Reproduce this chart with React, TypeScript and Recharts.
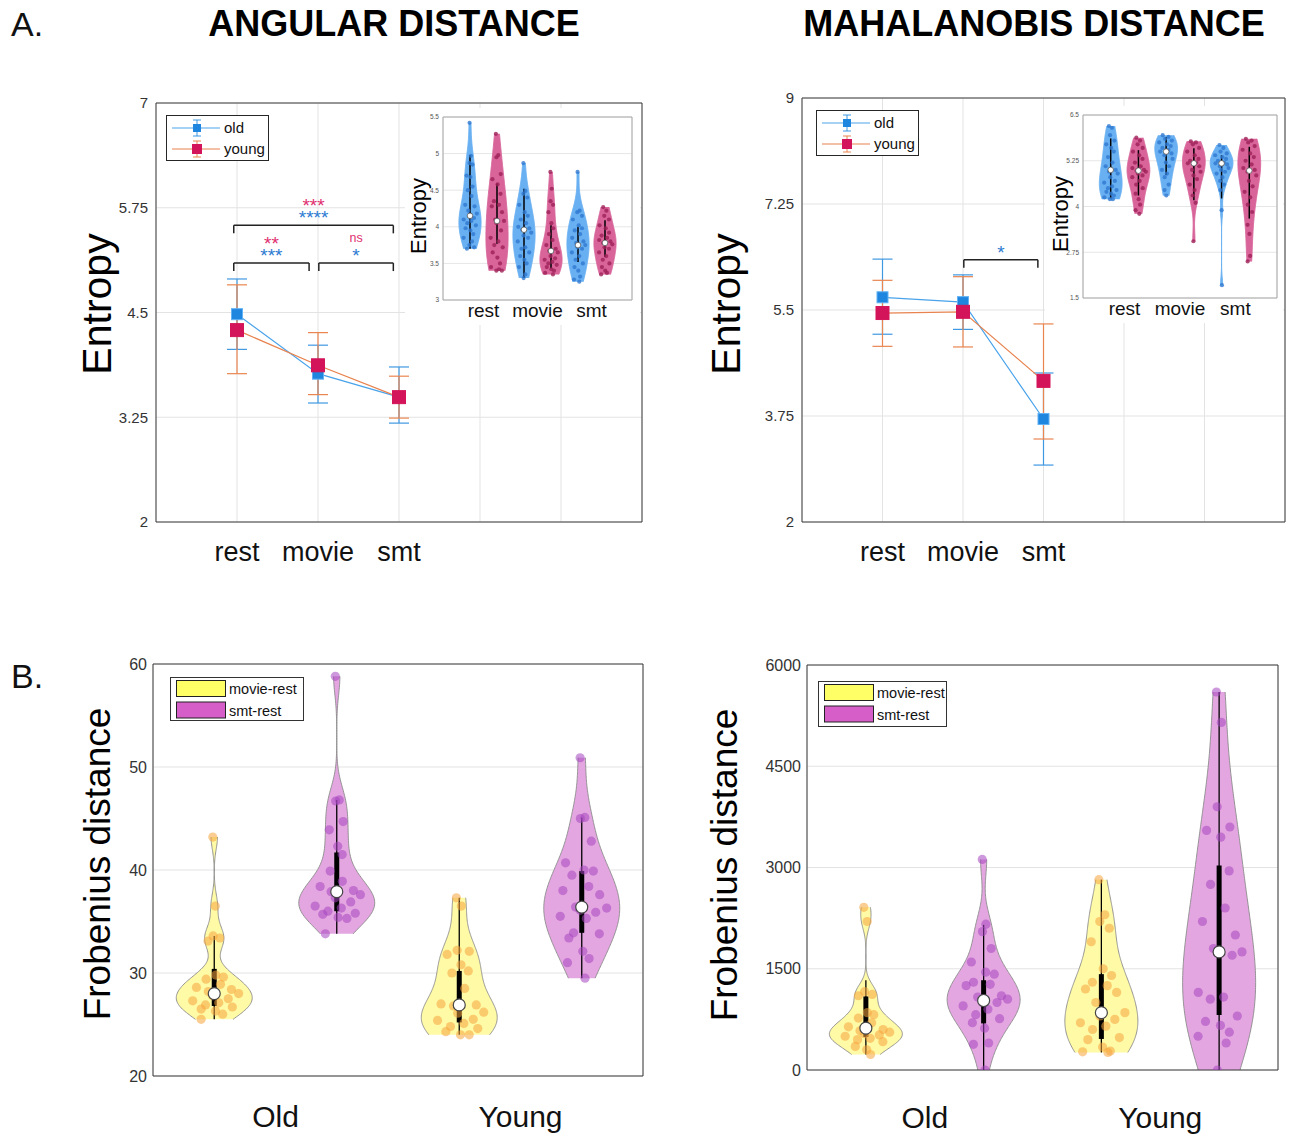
import React from 'react';
import {
  ComposedChart, Line, ErrorBar, Area, Scatter, XAxis, YAxis, CartesianGrid,
  ReferenceLine, ReferenceDot, ReferenceArea, Legend,
} from 'recharts';

const FONT = '"Liberation Sans", Arial, Helvetica, sans-serif';

// ================= DATA =================
// ---- A. condition means with error bars ----
const conditions = ['rest', 'movie', 'smt'];
const conditionX = [1, 2, 3];

const angularOldMean = [4.48, 3.77, 3.49];
const angularOldLow = [4.06, 3.42, 3.18];
const angularOldHigh = [4.9, 4.11, 3.85];
const angularYoungMean = [4.29, 3.87, 3.49];
const angularYoungLow = [3.77, 3.52, 3.24];
const angularYoungHigh = [4.83, 4.26, 3.74];
const angularTicks = [2, 3.25, 4.5, 5.75, 7];

const mahalOldMean = [5.71, 5.63, 3.7];
const mahalOldLow = [5.1, 5.18, 2.94];
const mahalOldHigh = [6.34, 6.08, 4.46];
const mahalYoungMean = [5.45, 5.47, 4.33];
const mahalYoungLow = [4.9, 4.89, 3.37];
const mahalYoungHigh = [5.99, 6.05, 5.27];
const mahalTicks = [2, 3.75, 5.5, 7.25, 9];

// significance brackets
const angularBracketFrom = [0.96, 0.96, 2.01];
const angularBracketTo = [2.93, 1.89, 2.93];
const angularBracketLevel = [5.54, 5.09, 5.09];
const angularSigYoung = ['***', '**', 'ns'];
const angularSigOld = ['****', '***', '*'];

const mahalBracketFrom = [2.01];
const mahalBracketTo = [2.93];
const mahalBracketLevel = [6.33];
const mahalSigYoung = [''];
const mahalSigOld = ['*'];

// ---- A. insets: per-subject entropy (old/young x rest/movie/smt) ----
const insetGroups = ['old', 'young', 'old', 'young', 'old', 'young'];
const insetX = [1, 2, 3, 4, 5, 6];

const angInsetOldRest = [5.42, 4.97, 4.87, 4.85, 4.7, 4.68, 4.55, 4.5, 4.42, 4.3, 4.28, 4.22, 4.18, 4.15, 4.12, 4.1, 4.08, 4.05, 4.02, 3.98, 3.95, 3.9, 3.85, 3.8, 3.75, 3.72, 3.7];
const angInsetYoungRest = [5.27, 4.98, 4.95, 4.72, 4.65, 4.58, 4.45, 4.35, 4.3, 4.28, 4.2, 4.1, 4.08, 4.05, 3.95, 3.85, 3.8, 3.75, 3.72, 3.65, 3.58, 3.5, 3.45, 3.42, 3.4, 3.4];
const angInsetOldMovie = [4.87, 4.49, 4.45, 4.4, 4.3, 4.2, 4.15, 4.1, 4.05, 4.0, 3.98, 3.96, 3.92, 3.88, 3.85, 3.8, 3.72, 3.7, 3.65, 3.6, 3.55, 3.5, 3.45, 3.35, 3.3];
const angInsetYoungMovie = [4.75, 4.52, 4.35, 4.3, 4.2, 4.05, 3.98, 3.9, 3.82, 3.75, 3.7, 3.67, 3.65, 3.6, 3.57, 3.55, 3.52, 3.5, 3.48, 3.45, 3.42, 3.4, 3.37, 3.35];
const angInsetOldSmt = [4.75, 4.22, 4.2, 4.15, 4.1, 4.02, 3.98, 3.95, 3.9, 3.85, 3.8, 3.78, 3.75, 3.72, 3.7, 3.65, 3.6, 3.55, 3.5, 3.45, 3.4, 3.32, 3.28, 3.25];
const angInsetYoungSmt = [4.27, 4.22, 4.15, 4.1, 4.02, 3.98, 3.92, 3.88, 3.85, 3.82, 3.8, 3.78, 3.76, 3.72, 3.7, 3.65, 3.6, 3.55, 3.5, 3.45, 3.4, 3.37, 3.35];
const angInsetMedian = [4.15, 4.08, 3.96, 3.67, 3.75, 3.78];
const angInsetLo = [3.7, 3.77, 3.3, 3.43, 3.52, 3.59];
const angInsetHi = [4.98, 4.59, 4.52, 4.02, 4.0, 4.09];
const angInsetTicks = [3, 3.5, 4, 4.5, 5, 5.5];

const mahInsetOldRest = [6.2, 6.15, 5.95, 5.8, 5.7, 5.6, 5.5, 5.35, 5.2, 5.1, 5.0, 4.95, 4.9, 4.8, 4.7, 4.65, 4.55, 4.5, 4.45, 4.4, 4.35, 4.3, 4.25, 4.2, 4.2];
const mahInsetYoungRest = [5.88, 5.8, 5.7, 5.6, 5.5, 5.4, 5.3, 5.2, 5.1, 5.05, 5.0, 4.98, 4.95, 4.9, 4.85, 4.8, 4.7, 4.6, 4.5, 4.35, 4.2, 4.05, 3.9, 3.8];
const mahInsetOldMovie = [5.95, 5.9, 5.85, 5.8, 5.75, 5.7, 5.65, 5.6, 5.55, 5.5, 5.45, 5.4, 5.3, 5.2, 5.1, 5.0, 4.9, 4.8, 4.6, 4.45, 4.3];
const mahInsetYoungMovie = [5.78, 5.75, 5.7, 5.6, 5.5, 5.4, 5.3, 5.25, 5.2, 5.18, 5.1, 5.0, 4.95, 4.85, 4.75, 4.6, 4.45, 4.3, 4.1, 3.05];
const mahInsetOldSmt = [5.68, 5.6, 5.5, 5.45, 5.4, 5.35, 5.3, 5.25, 5.2, 5.18, 5.15, 5.1, 5.05, 5.0, 4.95, 4.9, 4.8, 4.7, 4.6, 4.45, 3.9, 1.85];
const mahInsetYoungSmt = [5.85, 5.8, 5.75, 5.65, 5.55, 5.45, 5.35, 5.25, 5.15, 5.05, 5.0, 4.95, 4.85, 4.7, 4.55, 4.4, 4.25, 4.05, 3.85, 3.5, 3.25, 2.65, 2.5];
const mahInsetMedian = [5.0, 4.98, 5.5, 5.18, 5.18, 4.98];
const mahInsetLo = [4.22, 4.3, 4.86, 4.17, 4.22, 3.67];
const mahInsetHi = [5.86, 5.54, 5.9, 5.59, 5.4, 5.63];
const mahInsetTicks = [1.5, 2.75, 4, 5.25, 6.5];

// ---- B. Frobenius distance between task and rest ----
const ageGroups = ['Old', 'Young'];
const diffNames = ['movie-rest', 'smt-rest', 'movie-rest', 'smt-rest'];
const diffX = [1, 2, 3, 4];

const angOldMovieRest = [43.2, 36.5, 33.6, 33.4, 33.1, 29.8, 29.6, 29.4, 28.9, 28.6, 28.4, 28.2, 28.0, 27.8, 27.5, 27.3, 27.1, 26.9, 26.7, 26.5, 26.3, 26.0, 25.5];
const angOldSmtRest = [58.8, 46.8, 46.7, 44.7, 43.9, 42.3, 41.5, 39.9, 38.9, 38.4, 38.0, 37.9, 37.6, 37.3, 36.9, 36.5, 36.3, 36.0, 35.8, 35.7, 35.4, 35.3, 33.8];
const angYoungMovieRest = [37.3, 36.5, 32.2, 32.1, 31.8, 30.8, 30.2, 30.0, 28.5, 27.0, 26.9, 26.8, 26.2, 26.1, 25.5, 25.4, 25.1, 24.8, 24.6, 24.3, 24.0, 24.0];
const angYoungSmtRest = [50.9, 45.1, 45.0, 42.8, 40.7, 40.0, 39.9, 39.5, 38.4, 38.0, 37.6, 36.4, 36.3, 36.1, 35.9, 35.5, 35.3, 33.9, 33.8, 33.4, 32.1, 31.4, 31.0, 29.5];
const angDiffMedian = [28.0, 37.9, 26.9, 36.4];
const angDiffQ1 = [26.8, 36.0, 25.2, 33.9];
const angDiffQ3 = [30.4, 41.7, 30.2, 39.9];
const angDiffLo = [25.5, 33.8, 24.0, 29.5];
const angDiffHi = [33.6, 46.8, 37.3, 45.1];
const angDiffTicks = [20, 30, 40, 50, 60];

const mahOldMovieRest = [2410, 2200, 1160, 1120, 1100, 850, 820, 770, 700, 640, 600, 580, 560, 540, 520, 500, 470, 450, 420, 350, 300, 230];
const mahOldSmtRest = [3120, 2160, 2050, 1800, 1600, 1450, 1420, 1300, 1270, 1250, 1100, 1080, 1050, 1030, 1000, 950, 900, 820, 760, 700, 620, 400, 380, 0];
const mahYoungMovieRest = [2820, 2300, 2200, 2100, 1900, 1500, 1400, 1300, 1250, 1200, 1150, 1000, 850, 800, 750, 700, 650, 600, 480, 450, 340, 280, 270, 260];
const mahYoungSmtRest = [5600, 5150, 3900, 3600, 3550, 3450, 2950, 2750, 2400, 2200, 2000, 1800, 1750, 1730, 1700, 1150, 1080, 1050, 800, 720, 660, 560, 500, 400, 0];
const mahDiffMedian = [620, 1030, 850, 1750];
const mahDiffQ1 = [490, 690, 460, 815];
const mahDiffQ3 = [1090, 1330, 1420, 3030];
const mahDiffLo = [230, 0, 260, 0];
const mahDiffHi = [1330, 2150, 2820, 5600];
const mahDiffTicks = [0, 1500, 3000, 4500, 6000];

// ================= STYLES =================
const LINE_STYLE: Record<string, any> = {
  old: { line: '#4aa3ea', err: '#3f98e2', marker: '#1f86e0', edge: '#62b2f3', size: 11 },
  young: { line: '#e8824e', err: '#ea8550', marker: '#d4145a', edge: '#d4145a', size: 13 },
};
const INSET_STYLE: Record<string, any> = {
  old: { fill: '#68b0f2', point: '#2f78cf' },
  young: { fill: '#d8649a', point: '#9e2158' },
};
const DIFF_STYLE: Record<string, any> = {
  'movie-rest': { fill: '#fffaa6', point: '#f5a43c', patch: '#ffff66' },
  'smt-rest': { fill: '#e4a6e1', point: '#a646c0', patch: '#d65ec8' },
};
const SIG_YOUNG_COLOR = '#e0306f';
const SIG_OLD_COLOR = '#2d7bd2';
const JITTER = [-0.55, 0.35, -0.15, 0.7, -0.8, 0.1, 0.5, -0.4, 0.25, -0.65, 0.6, -0.2, 0.8, -0.05, 0.45, -0.7, 0.15, -0.3, 0.65, -0.5, 0.05, 0.4, -0.85, 0.3, -0.1, 0.75, -0.6];

// ================= HELPERS =================
type Rect = { x: number; y: number; w: number; h: number };
type Margin = { t: number; r: number; b: number; l: number };

function frame(plot: Rect, yw: number, xh: number, m: Margin) {
  return {
    left: plot.x - yw - m.l,
    top: plot.y - m.t,
    width: m.l + yw + plot.w + m.r,
    height: m.t + plot.h + xh + m.b,
  };
}

function quantile(sorted: number[], q: number) {
  const pos = (sorted.length - 1) * q;
  const lo = Math.floor(pos);
  const hi = Math.ceil(pos);
  return sorted[lo] + (sorted[hi] - sorted[lo]) * (pos - lo);
}

function makeDensity(vals: number[], bwScale: number) {
  const s = [...vals].sort((a, b) => a - b);
  const med = quantile(s, 0.5);
  const dev = s.map((v) => Math.abs(v - med)).sort((a, b) => a - b);
  const mad = quantile(dev, 0.5);
  const sig = mad / 0.6745 || (s[s.length - 1] - s[0]) / 4;
  const h = sig * Math.pow(4 / (3 * s.length), 0.2) * bwScale;
  const f = (y: number) => s.reduce((acc, p) => acc + Math.exp(-0.5 * ((y - p) / h) ** 2), 0);
  const min = s[0];
  const max = s[s.length - 1];
  let dmax = 0;
  for (let i = 0; i <= 300; i++) dmax = Math.max(dmax, f(min + ((max - min) * i) / 300));
  return { min, max, width: (y: number) => f(y) / dmax };
}

// outline of each violin (its own rows, from its min to its max) and jittered points
function buildViolins(groups: number[][], positions: number[], halfW: number, bw: number) {
  const dens = groups.map((g) => makeDensity(g, bw));
  const steps = 160;
  const outlines = dens.map((d, k) => {
    const rows: any[] = [];
    for (let i = 0; i <= steps; i++) {
      const v = d.min + ((d.max - d.min) * i) / steps;
      const w = halfW * d.width(v);
      rows.push({ v, band: [positions[k] - w, positions[k] + w] });
    }
    return rows;
  });
  const points = groups.map((g, k) =>
    g.map((v, j) => ({ x: positions[k] + JITTER[j % JITTER.length] * halfW * dens[k].width(v) * 0.82, v })),
  );
  return { outlines, points };
}

// two stacked significance marks (young above, old below) in one text element
function sigLabel(young: string, old: string) {
  return (lp: any) => {
    const vb = lp.viewBox || {};
    const cx = (vb.x ?? 0) + (vb.width ?? 0) / 2;
    const cy = (vb.y ?? 0) + (vb.height ?? 0) / 2;
    const part = (text: string, color: string, centerAbove: number, key: string) => {
      if (!text) return null;
      const star = /^\*+$/.test(text);
      const fs = star ? 19 : 12.5;
      const y = cy - centerAbove + (star ? 0.58 * fs : 0.27 * fs);
      return (
        <tspan key={key} x={cx} y={y} fontSize={fs} fill={color}>{text}</tspan>
      );
    };
    return (
      <text textAnchor="middle" fontFamily={FONT}>
        {part(young, SIG_YOUNG_COLOR, 24, 'y')}
        {part(old, SIG_OLD_COLOR, 12, 'o')}
      </text>
    );
  };
}

function squareDot(st: any) {
  return (d: any) => {
    if (d.cx == null || d.cy == null) return <g key={`e-${d.index}`} />;
    const s = st.size;
    return <rect key={`sq-${d.index}`} x={d.cx - s / 2} y={d.cy - s / 2} width={s} height={s} fill={st.marker} stroke={st.edge} strokeWidth={1} />;
  };
}

function LineLegendContent(props: any) {
  const items = (props.payload || []).filter((p: any) => LINE_STYLE[p.dataKey]);
  return (
    <svg width={103} height={46} style={{ display: 'block' }}>
      <rect x={0.5} y={0.5} width={102} height={45} fill="#fff" stroke="#262626" />
      {items.map((p: any, i: number) => {
        const st = LINE_STYLE[p.dataKey];
        const cy = 13 + i * 21;
        const mx = 31;
        const s = st.size - 3;
        return (
          <g key={p.value}>
            <line x1={6} x2={54} y1={cy} y2={cy} stroke={st.line} strokeWidth={1.2} />
            <line x1={mx} x2={mx} y1={cy - 8} y2={cy + 8} stroke={st.err} />
            <line x1={mx - 4} x2={mx + 4} y1={cy - 8} y2={cy - 8} stroke={st.err} />
            <line x1={mx - 4} x2={mx + 4} y1={cy + 8} y2={cy + 8} stroke={st.err} />
            <rect x={mx - s / 2} y={cy - s / 2} width={s} height={s} fill={st.marker} />
            <text x={58} y={cy + 5} fontSize={15} fontFamily={FONT} fill="#111">{p.value}</text>
          </g>
        );
      })}
    </svg>
  );
}

function makePatchLegend(w: number, h: number) {
  return (props: any) => {
    const seen = new Set<string>();
    const items = (props.payload || []).filter((p: any) => {
      if (!DIFF_STYLE[p.value] || seen.has(p.value)) return false;
      seen.add(p.value);
      return true;
    });
    return (
      <svg width={w} height={h} style={{ display: 'block' }}>
        <rect x={0.5} y={0.5} width={w - 1} height={h - 1} fill="#fff" stroke="#333" />
        {items.map((p: any, i: number) => {
          const y = 3 + i * 21.5;
          return (
            <g key={p.value}>
              <rect x={6.5} y={y + 0.5} width={49} height={16} fill={DIFF_STYLE[p.value].patch} stroke="#222" />
              <text x={59} y={y + 14} fontSize={14.5} fontFamily={FONT} fill="#111">{p.value}</text>
            </g>
          );
        })}
      </svg>
    );
  };
}

// ================= LINE PANEL =================
function LinePanel(p: {
  plot: Rect; yDomain: [number, number]; yTicks: number[];
  oldMean: number[]; oldLow: number[]; oldHigh: number[];
  youngMean: number[]; youngLow: number[]; youngHigh: number[];
  bFrom: number[]; bTo: number[]; bLevel: number[]; sigYoung: string[]; sigOld: string[];
  legend: { x: number; y: number };
}) {
  const yw = 62;
  const xh = 50;
  const m = { t: 10, r: 6, b: 0, l: 0 };
  const box = frame(p.plot, yw, xh, m);
  const rows = conditionX.map((x, i) => ({
    x,
    old: p.oldMean[i],
    young: p.youngMean[i],
    oldErr: [p.oldMean[i] - p.oldLow[i], p.oldHigh[i] - p.oldMean[i]],
    youngErr: [p.youngMean[i] - p.youngLow[i], p.youngHigh[i] - p.youngMean[i]],
  }));
  const drop = 8 / (p.plot.h / (p.yDomain[1] - p.yDomain[0]));
  return (
    <div style={{ position: 'absolute', left: box.left, top: box.top }}>
      <ComposedChart width={box.width} height={box.height} data={rows} margin={{ top: m.t, right: m.r, bottom: m.b, left: m.l }}>
        <CartesianGrid stroke="#e3e3e3" />
        <XAxis
          dataKey="x" type="number" domain={[0, 6]} ticks={[1, 2, 3, 4, 5]} interval={0} allowDataOverflow
          height={xh} tickLine={false} axisLine={false} tickSize={0} tickMargin={20}
          tickFormatter={(v: number) => conditions[conditionX.indexOf(v)] ?? ''}
          tick={{ fontSize: 27, fill: '#111', fontFamily: FONT }}
        />
        <YAxis
          type="number" domain={p.yDomain} ticks={p.yTicks} interval={0} allowDataOverflow width={yw}
          tickLine={false} axisLine={false} tickSize={0} tickMargin={8}
          tick={{ fontSize: 15, fill: '#333', fontFamily: FONT }}
        />
        <ReferenceArea x1={0} x2={6} y1={p.yDomain[0]} y2={p.yDomain[1]} fill="none" fillOpacity={0} stroke="#3a3a3a" strokeWidth={1} ifOverflow="visible" />
        {p.bLevel.map((lv, i) => [
          <ReferenceLine key={`bh${i}`} segment={[{ x: p.bFrom[i], y: lv }, { x: p.bTo[i], y: lv }]} stroke="#222" strokeWidth={1.5} ifOverflow="visible" />,
          <ReferenceLine key={`bl${i}`} segment={[{ x: p.bFrom[i], y: lv }, { x: p.bFrom[i], y: lv - drop }]} stroke="#222" strokeWidth={1.5} ifOverflow="visible" />,
          <ReferenceLine key={`br${i}`} segment={[{ x: p.bTo[i], y: lv }, { x: p.bTo[i], y: lv - drop }]} stroke="#222" strokeWidth={1.5} ifOverflow="visible" />,
          <ReferenceDot key={`sg${i}`} x={(p.bFrom[i] + p.bTo[i]) / 2} y={lv} r={0} stroke="none" fill="none" label={sigLabel(p.sigYoung[i], p.sigOld[i])} ifOverflow="visible" />,
        ])}
        <Line dataKey="old" name="old" stroke={LINE_STYLE.old.line} strokeWidth={1.2} dot={squareDot(LINE_STYLE.old)} activeDot={false} isAnimationActive={false}>
          <ErrorBar dataKey="oldErr" direction="y" width={10} stroke={LINE_STYLE.old.err} strokeWidth={1.2} />
        </Line>
        <Line dataKey="young" name="young" stroke={LINE_STYLE.young.line} strokeWidth={1.2} dot={squareDot(LINE_STYLE.young)} activeDot={false} isAnimationActive={false}>
          <ErrorBar dataKey="youngErr" direction="y" width={10} stroke={LINE_STYLE.young.err} strokeWidth={1.2} />
        </Line>
        <Legend
          content={LineLegendContent} layout="vertical" align="center" verticalAlign="middle"
          wrapperStyle={{ left: p.legend.x - box.left, top: p.legend.y - box.top, width: 103, height: 46 }}
        />
      </ComposedChart>
    </div>
  );
}

// ================= VIOLIN PANEL =================
function ViolinPanel(p: {
  plot: Rect; yw: number; xh: number; m: Margin; background?: string;
  yDomain: [number, number]; yTicks: number[]; xDomain: [number, number];
  positions: number[]; groups: number[][]; keys: string[]; styles: Record<string, any>;
  medians: number[]; lo: number[]; hi: number[]; q1?: number[]; q3?: number[];
  halfWidth: number; bw: number;
  labelTicks: number[]; labelTexts: string[];
  tickFont: number; tickColor: string; tickMargin: number;
  labelFont: number; labelMargin: number;
  gridColor: string; borderColor: string;
  violinStroke: string | null; violinStrokeWidth: number;
  pointR: number; pointOpacity: number;
  medianR: number; whiskerW: number; boxW: number;
  legend?: { x: number; y: number; w: number; h: number };
}) {
  const box = frame(p.plot, p.yw, p.xh, p.m);
  const { outlines, points } = buildViolins(p.groups, p.positions, p.halfWidth, p.bw);
  const PatchLegend = p.legend ? makePatchLegend(p.legend.w, p.legend.h) : null;
  const seen = new Set<string>();
  return (
    <div style={{ position: 'absolute', left: box.left, top: box.top, background: p.background }}>
      <ComposedChart layout="vertical" width={box.width} height={box.height} margin={{ top: p.m.t, right: p.m.r, bottom: p.m.b, left: p.m.l }}>
        <CartesianGrid stroke={p.gridColor} />
        <XAxis
          xAxisId={0} dataKey="x" type="number" domain={p.xDomain} ticks={p.positions} interval={0} allowDataOverflow
          height={0} tickLine={false} axisLine={false} tick={false}
        />
        <XAxis
          xAxisId="lab" type="number" domain={p.xDomain} ticks={p.labelTicks} interval={0} allowDataOverflow
          height={p.xh} tickLine={false} axisLine={false} tickSize={0} tickMargin={p.labelMargin}
          tickFormatter={(v: number) => p.labelTexts[p.labelTicks.indexOf(v)] ?? ''}
          tick={{ fontSize: p.labelFont, fill: '#111', fontFamily: FONT }}
        />
        <YAxis
          dataKey="v" type="number" domain={p.yDomain} ticks={p.yTicks} interval={0} allowDataOverflow width={p.yw}
          reversed tickLine={false} axisLine={false} tickSize={0} tickMargin={p.tickMargin}
          tick={{ fontSize: p.tickFont, fill: p.tickColor, fontFamily: FONT }}
        />
        {outlines.map((rows, k) => {
          const st = p.styles[p.keys[k]];
          const first = !seen.has(p.keys[k]);
          seen.add(p.keys[k]);
          return (
            <Area
              key={`a${k}`} data={rows} dataKey="band" name={p.keys[k]} type="linear"
              fill={st.fill} fillOpacity={1}
              stroke={p.violinStroke ?? st.fill} strokeWidth={p.violinStrokeWidth}
              legendType={first ? 'rect' : 'none'}
              dot={false} activeDot={false} isAnimationActive={false}
            />
          );
        })}
        {points.map((pts, k) => {
          const st = p.styles[p.keys[k]];
          return (
            <Scatter
              key={`s${k}`} data={pts} dataKey="v" legendType="none" isAnimationActive={false}
              fill={st.point}
              shape={(d: any) => <circle cx={d.cx} cy={d.cy} r={p.pointR} fill={st.point} fillOpacity={p.pointOpacity} />}
            />
          );
        })}
        {p.positions.map((x, k) => (
          <ReferenceLine key={`w${k}`} segment={[{ x, y: p.lo[k] }, { x, y: p.hi[k] }]} stroke="#000" strokeWidth={p.whiskerW} ifOverflow="visible" />
        ))}
        {p.q1 && p.q3 && p.positions.map((x, k) => (
          <ReferenceLine key={`q${k}`} segment={[{ x, y: p.q1![k] }, { x, y: p.q3![k] }]} stroke="#000" strokeWidth={p.boxW} ifOverflow="visible" />
        ))}
        {p.positions.map((x, k) => (
          <ReferenceDot key={`m${k}`} x={x} y={p.medians[k]} r={p.medianR} fill="#fff" stroke="#444" strokeWidth={p.medianR > 4 ? 1.2 : 0.7} ifOverflow="visible" />
        ))}
        <ReferenceArea x1={p.xDomain[0]} x2={p.xDomain[1]} y1={p.yDomain[0]} y2={p.yDomain[1]} fill="none" fillOpacity={0} stroke={p.borderColor} strokeWidth={1} ifOverflow="visible" />
        {p.legend && PatchLegend && (
          <Legend
            content={PatchLegend} layout="vertical" align="center" verticalAlign="middle"
            wrapperStyle={{ left: p.legend.x - box.left, top: p.legend.y - box.top, width: p.legend.w, height: p.legend.h }}
          />
        )}
      </ComposedChart>
    </div>
  );
}

function pairMidpoints(xs: number[]) {
  const out: number[] = [];
  for (let i = 0; i + 1 < xs.length; i += 2) out.push((xs[i] + xs[i + 1]) / 2);
  return out;
}

const insetCommon = {
  yw: 38, xh: 25, background: '#fff',
  xDomain: [0, 7] as [number, number],
  positions: insetX, keys: insetGroups, styles: INSET_STYLE,
  halfWidth: 0.41, bw: 1.0,
  labelTicks: pairMidpoints(insetX), labelTexts: conditions,
  tickFont: 6.5, tickColor: '#555', tickMargin: 4,
  labelFont: 19, labelMargin: 4,
  gridColor: '#e6e6e6', borderColor: '#a8a8a8',
  violinStroke: null, violinStrokeWidth: 1,
  pointR: 2.1, pointOpacity: 0.8,
  medianR: 2.8, whiskerW: 1.5, boxW: 1.5,
};

const diffCommon = {
  yw: 60, m: { t: 10, r: 6, b: 0, l: 0 },
  xDomain: [0.5, 4.5] as [number, number],
  positions: diffX, keys: diffNames, styles: DIFF_STYLE,
  halfWidth: 0.31, bw: 1.0,
  labelTicks: pairMidpoints(diffX), labelTexts: ageGroups,
  tickFont: 16, tickColor: '#333', tickMargin: 6,
  labelFont: 30,
  gridColor: '#e3e3e3', borderColor: '#3a3a3a',
  violinStroke: '#8a8a8a', violinStrokeWidth: 0.9,
  pointR: 4.6, pointOpacity: 0.55,
  medianR: 6, whiskerW: 1.3, boxW: 5,
};

export default function App() {
  return (
    <div style={{ position: 'absolute', left: 0, top: 0, width: 1292, height: 1138, background: '#fff', fontFamily: FONT }}>
      <LinePanel
        plot={{ x: 156, y: 103, w: 486, h: 419 }} yDomain={[2, 7]} yTicks={angularTicks}
        oldMean={angularOldMean} oldLow={angularOldLow} oldHigh={angularOldHigh}
        youngMean={angularYoungMean} youngLow={angularYoungLow} youngHigh={angularYoungHigh}
        bFrom={angularBracketFrom} bTo={angularBracketTo} bLevel={angularBracketLevel}
        sigYoung={angularSigYoung} sigOld={angularSigOld}
        legend={{ x: 166, y: 115 }}
      />
      <LinePanel
        plot={{ x: 802, y: 98, w: 483, h: 424 }} yDomain={[2, 9]} yTicks={mahalTicks}
        oldMean={mahalOldMean} oldLow={mahalOldLow} oldHigh={mahalOldHigh}
        youngMean={mahalYoungMean} youngLow={mahalYoungLow} youngHigh={mahalYoungHigh}
        bFrom={mahalBracketFrom} bTo={mahalBracketTo} bLevel={mahalBracketLevel}
        sigYoung={mahalSigYoung} sigOld={mahalSigOld}
        legend={{ x: 816, y: 110 }}
      />
      <ViolinPanel
        {...insetCommon}
        plot={{ x: 443, y: 117, w: 189, h: 183 }} m={{ t: 9, r: 8, b: 0, l: 0 }}
        yDomain={[3, 5.5]} yTicks={angInsetTicks}
        groups={[angInsetOldRest, angInsetYoungRest, angInsetOldMovie, angInsetYoungMovie, angInsetOldSmt, angInsetYoungSmt]}
        medians={angInsetMedian} lo={angInsetLo} hi={angInsetHi}
      />
      <ViolinPanel
        {...insetCommon}
        plot={{ x: 1083, y: 115, w: 194, h: 183 }} m={{ t: 9, r: 6, b: 0, l: 0 }}
        yDomain={[1.5, 6.5]} yTicks={mahInsetTicks}
        groups={[mahInsetOldRest, mahInsetYoungRest, mahInsetOldMovie, mahInsetYoungMovie, mahInsetOldSmt, mahInsetYoungSmt]}
        medians={mahInsetMedian} lo={mahInsetLo} hi={mahInsetHi}
      />
      <ViolinPanel
        {...diffCommon}
        plot={{ x: 153, y: 664, w: 490, h: 412 }} xh={60} labelMargin={30}
        yDomain={[20, 60]} yTicks={angDiffTicks}
        groups={[angOldMovieRest, angOldSmtRest, angYoungMovieRest, angYoungSmtRest]}
        medians={angDiffMedian} lo={angDiffLo} hi={angDiffHi} q1={angDiffQ1} q3={angDiffQ3}
        legend={{ x: 170, y: 677, w: 134, h: 44 }}
      />
      <ViolinPanel
        {...diffCommon}
        plot={{ x: 807, y: 665, w: 471, h: 405 }} xh={66} labelMargin={37}
        yDomain={[0, 6000]} yTicks={mahDiffTicks}
        groups={[mahOldMovieRest, mahOldSmtRest, mahYoungMovieRest, mahYoungSmtRest]}
        medians={mahDiffMedian} lo={mahDiffLo} hi={mahDiffHi} q1={mahDiffQ1} q3={mahDiffQ3}
        legend={{ x: 818, y: 681, w: 129, h: 46 }}
      />
      <svg width={1292} height={1138} style={{ position: 'absolute', left: 0, top: 0, pointerEvents: 'none' }} fontFamily={FONT}>
        <text x={11} y={36} fontSize={34} fill="#111">A.</text>
        <text x={11} y={688} fontSize={34} fill="#111">B.</text>
        <text x={394} y={36} fontSize={36} fontWeight="bold" textAnchor="middle" fill="#000">ANGULAR DISTANCE</text>
        <text x={1034} y={36} fontSize={36} fontWeight="bold" textAnchor="middle" fill="#000">MAHALANOBIS DISTANCE</text>
        <text x={111} y={304} fontSize={41} textAnchor="middle" transform="rotate(-90 111 304)" fill="#000">Entropy</text>
        <text x={740} y={304} fontSize={41} textAnchor="middle" transform="rotate(-90 740 304)" fill="#000">Entropy</text>
        <text x={426} y={216} fontSize={22} textAnchor="middle" transform="rotate(-90 426 216)" fill="#000">Entropy</text>
        <text x={1068} y={214} fontSize={22} textAnchor="middle" transform="rotate(-90 1068 214)" fill="#000">Entropy</text>
        <text x={110} y={864} fontSize={37} textAnchor="middle" transform="rotate(-90 110 864)" fill="#000">Frobenius distance</text>
        <text x={737} y={865} fontSize={37} textAnchor="middle" transform="rotate(-90 737 865)" fill="#000">Frobenius distance</text>
      </svg>
    </div>
  );
}
